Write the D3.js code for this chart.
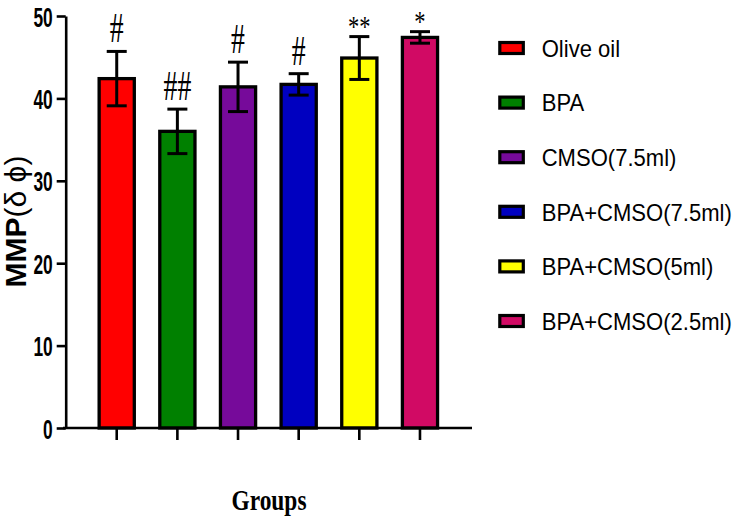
<!DOCTYPE html>
<html>
<head>
<meta charset="utf-8">
<script src="https://cdn.jsdelivr.net/npm/d3@7"></script>
<style>
  html, body { margin: 0; padding: 0; background: #fff; }
  svg { display: block; }
</style>
</head>
<body>
<svg id="chart" width="738" height="524"></svg>
<script>
// ---- data ----
const groups = ["Olive oil", "BPA", "CMSO(7.5ml)", "BPA+CMSO(7.5ml)", "BPA+CMSO(5ml)", "BPA+CMSO(2.5ml)"];
const means  = [42.4, 36.0, 41.4, 41.7, 44.9, 47.4];
const errors = [3.3, 2.7, 3.0, 1.3, 2.6, 0.7];
const marks  = ["#", "##", "#", "#", "**", "*"];
const colors = ["#FF0000", "#008000", "#760A9A", "#0000C0", "#FFFF00", "#D10A64"];
const yTicks = [0, 10, 20, 30, 40, 50];

const svg = d3.select("#chart");

const x = d3.scaleBand().domain(groups).range([86.4, 450.3]).paddingInner(0.42).paddingOuter(0.21);
const y = d3.scaleLinear().domain([0, 50]).range([428, 16]);

// ---- bars ----
svg.append("g").selectAll("rect").data(groups).join("rect")
  .attr("x", d => x(d))
  .attr("y", (d, i) => y(means[i]))
  .attr("width", x.bandwidth())
  .attr("height", (d, i) => y(0) - y(means[i]))
  .attr("fill", (d, i) => colors[i])
  .attr("stroke", "#000")
  .attr("stroke-width", 3.3);

// ---- error bars ----
const eb = svg.append("g").attr("stroke", "#000").attr("stroke-width", 3);
groups.forEach((g, i) => {
  const cx = x(g) + x.bandwidth() / 2;
  const top = y(means[i] + errors[i]);
  const bot = y(means[i] - errors[i]);
  eb.append("line").attr("x1", cx).attr("x2", cx).attr("y1", top).attr("y2", bot);
  eb.append("line").attr("x1", cx - 10).attr("x2", cx + 10).attr("y1", top).attr("y2", top);
  eb.append("line").attr("x1", cx - 10).attr("x2", cx + 10).attr("y1", bot).attr("y2", bot);
});

// ---- significance marks ----
groups.forEach((g, i) => {
  const cx = x(g) + x.bandwidth() / 2;
  const top = y(means[i] + errors[i]);
  const star = marks[i].includes("*");
  svg.append("text")
    .attr("transform", `translate(${cx},${star ? top - 1 : top - 9}) scale(${star ? 0.75 : 0.66},1)`)
    .attr("text-anchor", "middle")
    .attr("font-family", "'Liberation Serif', 'Times New Roman', serif")
    .attr("font-size", star ? 30 : 42)
    .attr("fill", "#000")
    .text(marks[i]);
});

// ---- y axis ----
const yAxis = svg.append("g").attr("transform", "translate(65.7,0)")
  .call(d3.axisLeft(y).tickValues(yTicks).tickSize(9).tickSizeOuter(0).tickFormat(d3.format("d")));
yAxis.select(".domain").attr("stroke", "#000").attr("stroke-width", 2.6);
yAxis.selectAll(".tick line").attr("stroke", "#000").attr("stroke-width", 2.6);
yAxis.selectAll(".tick text")
  .attr("x", null).attr("dy", null)
  .attr("transform", "translate(-13,10) scale(0.62,1)")
  .attr("text-anchor", "end")
  .attr("font-family", "'Liberation Sans', Arial, sans-serif")
  .attr("font-weight", "bold")
  .attr("font-size", 28)
  .attr("fill", "#000");

// ---- x axis ----
const xAxis = svg.append("g").attr("transform", "translate(0,428)")
  .call(d3.axisBottom(x).tickSize(12).tickSizeOuter(0).tickFormat(""));
xAxis.select(".domain").attr("d", "M63,0H472").attr("stroke", "#000").attr("stroke-width", 2.6);
xAxis.selectAll(".tick line").attr("stroke", "#000").attr("stroke-width", 2.6);

// ---- axis titles ----
const yt = svg.append("text")
  .attr("transform", "translate(26,221.5) rotate(-90)")
  .attr("text-anchor", "middle")
  .attr("font-family", "'Liberation Sans', Arial, sans-serif")
  .attr("font-size", 30)
  .attr("fill", "#000");
yt.append("tspan").attr("font-weight", "bold").text("MMP");
yt.append("tspan").attr("font-weight", "normal").text("(δ ϕ)");

svg.append("text")
  .attr("transform", "translate(269,510) scale(0.78,1)")
  .attr("text-anchor", "middle")
  .attr("font-family", "'Liberation Serif', 'Times New Roman', serif")
  .attr("font-weight", "bold")
  .attr("font-size", 30)
  .attr("fill", "#000")
  .text("Groups");

// ---- legend ----
const lg = svg.append("g");
groups.forEach((g, i) => {
  const cy = 48 + i * 54.6;
  lg.append("rect")
    .attr("x", 499.8).attr("y", cy - 5.5)
    .attr("width", 23.5).attr("height", 11)
    .attr("fill", colors[i]).attr("stroke", "#000").attr("stroke-width", 3.2);
  lg.append("text")
    .attr("transform", `translate(541.7,${cy + 8.8}) scale(0.9,1)`)
    .attr("font-family", "'Liberation Sans', Arial, sans-serif")
    .attr("font-size", 24.5)
    .attr("fill", "#000")
    .text(g);
});
</script>
</body>
</html>
